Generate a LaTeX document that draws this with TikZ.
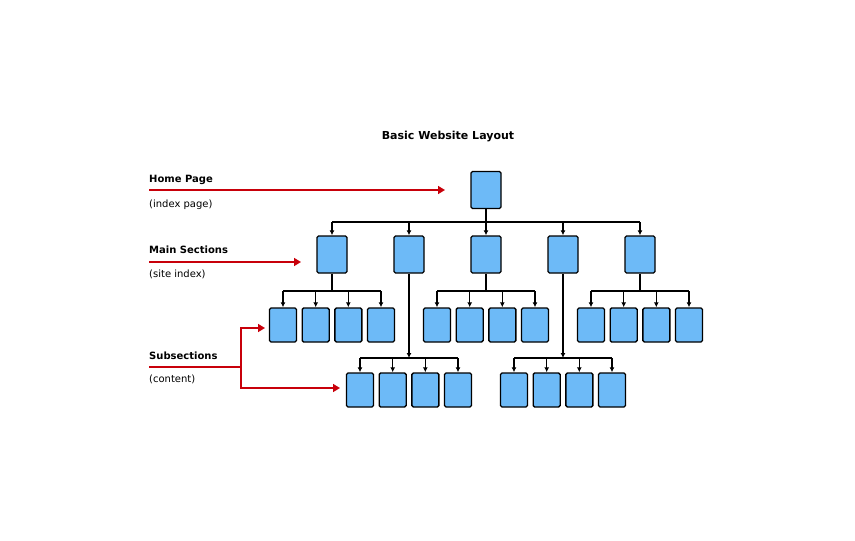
\documentclass[tikz,border=0pt]{standalone}
\usepackage{fontspec}
\setmainfont{DejaVu Sans}
\usetikzlibrary{arrows.meta}
\definecolor{boxblue}{HTML}{6DBAF7}
\definecolor{redarr}{HTML}{C8000A}
\begin{document}
\begin{tikzpicture}[x=1pt,y=-1pt,
  page/.style={draw=black,line width=1.4pt,fill=boxblue,rounded corners=1.5pt,minimum width=#1,minimum height=37pt,inner sep=0pt},
  page/.default=30pt,
  sub/.style={draw=black,line width=1.4pt,fill=boxblue,rounded corners=1.5pt,minimum width=27pt,minimum height=34pt,inner sep=0pt},
  link/.style={line width=1.4pt,-{Latex[length=5pt,width=5pt]}},
  bus/.style={line width=1.4pt},
  note/.style={red!0,draw=none},
  lab/.style={anchor=west,inner sep=0pt,font=\fontsize{10}{12}\selectfont},
  rarr/.style={draw=redarr,line width=1.6pt,-{Triangle[length=7pt,width=8pt]}}]
\useasboundingbox (0,0) rectangle (855,541);
\node[font=\fontsize{11}{13}\selectfont\bfseries] (title) at (448,137) {Basic Website Layout};
\node[page] (home) at (486,190) {};
\foreach \n/\x in {m1/332,m2/409,m3/486,m4/563,m5/640}
  \node[page] (\n) at (\x,254.5) {};
\coordinate (hb) at (486,222);
\draw[bus] (home.south) -- (hb);
\draw[bus] (332,222) -- (640,222);
\foreach \n/\x in {m1/332,m2/409,m3/486,m4/563,m5/640}
  \draw[link] (\x,222) -- (\n.north);
% row 1 subsections
\foreach \g/\c in {m1/332,m3/486,m5/640}{
  \draw[bus] (\g.south) -- (\c,291);
  \draw[bus] (\c-49,291) -- (\c+49,291);
  \foreach \i/\dx in {1/-49,2/-16.3,3/16.3,4/49}{
    \node[sub] (\g s\i) at (\c+\dx,325) {};
    \draw[link] (\c+\dx,291) -- (\g s\i.north);
  }
}
% row 2 subsections
\foreach \g/\c in {m2/409,m4/563}{
  \coordinate (\g b) at (\c,358);
  \draw[link] (\g.south) -- (\g b);
  \draw[bus] (\c-49,358) -- (\c+49,358);
  \foreach \i/\dx in {1/-49,2/-16.3,3/16.3,4/49}{
    \node[sub] (\g t\i) at (\c+\dx,390) {};
    \draw[link] (\c+\dx,358) -- (\g t\i.north);
  }
}
% labels
\node[lab,font=\fontsize{10}{12}\selectfont\bfseries] (l1) at (149,180) {Home Page};
\node[lab] (l1b) at (149,205) {(index page)};
\node[lab,font=\fontsize{10}{12}\selectfont\bfseries] (l2) at (149,250) {Main Sections};
\node[lab] (l2b) at (149,274) {(site index)};
\node[lab,font=\fontsize{10}{12}\selectfont\bfseries] (l3) at (149,356) {Subsections};
\node[lab] (l3b) at (149,379) {(content)};
\coordinate (r1s) at (149,190); \coordinate (r1e) at (445,190);
\coordinate (r2s) at (149,262); \coordinate (r2e) at (301,262);
\coordinate (r3s) at (149,367); \coordinate (r3j) at (241,367);
\coordinate (r3a) at (265,328); \coordinate (r3b) at (340,388);
\draw[rarr] (r1s) -- (r1e);
\draw[rarr] (r2s) -- (r2e);
\draw[draw=redarr,line width=1.6pt] (r3s) -- (r3j);
\draw[rarr] (r3j) |- (r3a);
\draw[rarr] (r3j) |- (r3b);
\end{tikzpicture}
\end{document}
